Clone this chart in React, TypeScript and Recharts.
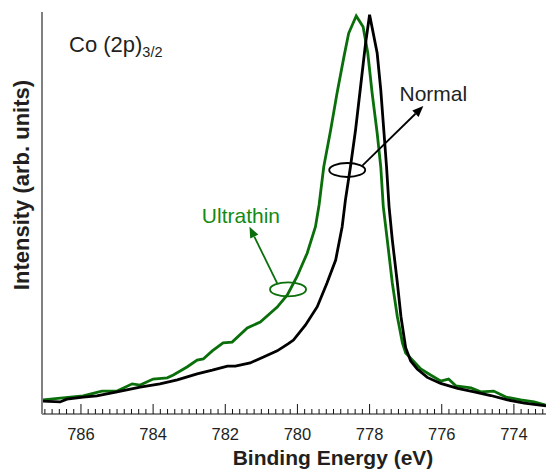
import { LineChart, Line, XAxis, YAxis, ReferenceDot, ReferenceLine } from 'recharts';

const FONT = '"Liberation Sans", Arial, Helvetica, sans-serif';
const GREEN = '#0a6f0a';

// binding energy (eV) / intensity (arb.)
const normalEnergy = [
  787.06, 786.58, 786.39, 785.94, 785.56, 785.0, 784.36, 783.81, 783.33, 782.78, 782.36, 781.94, 781.72,
  781.31, 780.94, 780.56, 780.25, 780.11, 779.78, 779.45, 779.18, 778.94, 778.76, 778.67, 778.53, 778.39,
  778.25, 778.11, 778.0, 777.79, 777.69, 777.6, 777.53, 777.46, 777.37, 777.23, 777.13, 777.0, 776.86,
  776.68, 776.4, 776.03, 775.56, 775.1, 774.64, 774.18, 773.71, 773.11,
];
const normalIntensity = [
  3.2, 3.0, 3.7, 4.2, 4.5, 5.5, 6.7, 7.5, 8.5, 10.0, 10.9, 11.9, 11.9,
  12.7, 14.2, 15.7, 17.5, 18.4, 22.1, 26.7, 32.6, 38.3, 46.6, 53.2, 61.5, 70.6,
  81.4, 92.3, 99.3, 89.8, 80.6, 69.9, 61.5, 51.6, 43.3, 32.6, 24.2, 16.5, 13.2,
  11.2, 9.1, 7.6, 6.4, 5.5, 4.6, 3.5, 2.7, 2.0,
];

const ultraEnergy = [
  787.05, 786.5, 785.94, 785.42, 785.0, 784.58, 784.36, 784.0, 783.61, 783.44, 783.06, 782.78, 782.61,
  782.36, 782.06, 781.81, 781.39, 781.03, 780.56, 780.28, 780.01, 779.73, 779.5, 779.4, 779.27, 779.08,
  778.9, 778.71, 778.58, 778.37, 778.18, 778.05, 777.93, 777.79, 777.69, 777.62, 777.51, 777.37, 777.23,
  777.09, 777.0, 776.86, 776.58, 776.31, 776.03, 775.81, 775.61, 775.19, 774.92, 774.56, 774.22, 773.81,
  773.44, 773.11,
];
const ultraIntensity = [
  3.5, 4.0, 4.5, 5.7, 5.7, 7.5, 7.2, 8.7, 9.0, 9.7, 11.7, 13.4, 13.7,
  15.7, 17.7, 17.9, 21.4, 22.9, 26.6, 29.6, 34.2, 40.0, 46.6, 52.0, 61.5, 70.6,
  79.9, 88.9, 94.7, 99.0, 96.3, 89.8, 79.9, 69.9, 61.5, 51.6, 43.3, 32.6, 24.2,
  17.7, 15.2, 13.9, 11.2, 9.7, 8.2, 8.7, 7.0, 6.5, 5.5, 5.7, 4.2, 3.5,
  3.0, 2.2,
];

const majorTicks = [786, 784, 782, 780, 778, 776, 774];
const minorTicks = Array.from({ length: 70 }, (_, i) => Number((773.2 + i * 0.2).toFixed(1)));

const normalData = normalEnergy.map((e, i) => ({ e, v: normalIntensity[i] }));
const ultraData = ultraEnergy.map((e, i) => ({ e, v: ultraIntensity[i] }));

function EnergyTick({ x, y, payload }: any) {
  const val = payload.value as number;
  const major = majorTicks.some((t) => Math.abs(t - val) < 1e-6);
  return (
    <g>
      <line x1={x} x2={x} y1={y - (major ? 10 : 5)} y2={y} stroke="#111" strokeWidth={1} />
      {major && (
        <text x={x} y={y + 26} textAnchor="middle" fontSize={16.5} fontFamily={FONT} fill="#231f20">
          {val}
        </text>
      )}
    </g>
  );
}

function arrow(color: string) {
  return (p: any) => {
    const { x1, y1, x2, y2 } = p;
    const dx = x2 - x1;
    const dy = y2 - y1;
    const len = Math.hypot(dx, dy) || 1;
    const ux = dx / len;
    const uy = dy / len;
    const hl = 11;
    const hw = 4.5;
    const bx = x2 - ux * hl;
    const by = y2 - uy * hl;
    return (
      <g>
        <line x1={x1} y1={y1} x2={bx} y2={by} stroke={color} strokeWidth={1.8} />
        <polygon
          points={`${x2},${y2} ${bx - uy * hw},${by + ux * hw} ${bx + uy * hw},${by - ux * hw}`}
          fill={color}
        />
      </g>
    );
  };
}

function ring(color: string) {
  return (p: any) => (
    <ellipse cx={p.cx} cy={p.cy} rx={18} ry={7} fill="none" stroke={color} strokeWidth={1.8} />
  );
}

function tag(text: string, color: string) {
  return (p: any) => (
    <text x={p.cx} y={p.cy} fontSize={21} fontFamily={FONT} fill={color}>
      {text}
    </text>
  );
}

export default function App() {
  return (
    <div style={{ position: 'absolute', left: 0, top: 0, width: 546, height: 470, background: '#fff' }}>
      <LineChart width={546} height={470} margin={{ top: 12, right: 0, bottom: 0, left: 0 }}>
        <XAxis
          dataKey="e"
          type="number"
          domain={[773.11, 787.08]}
          reversed
          allowDataOverflow
          ticks={minorTicks}
          interval={0}
          tick={<EnergyTick />}
          tickLine={false}
          tickSize={0}
          tickMargin={0}
          height={56}
          axisLine={{ stroke: '#111', strokeWidth: 1 }}
        />
        <XAxis
          xAxisId="top"
          orientation="top"
          dataKey="e"
          type="number"
          domain={[773.11, 787.08]}
          reversed
          tick={false}
          tickLine={false}
          height={0}
          axisLine={{ stroke: '#808080', strokeWidth: 2 }}
        />
        <YAxis
          type="number"
          domain={[0, 100]}
          width={42}
          tick={false}
          tickLine={false}
          axisLine={{ stroke: '#808080', strokeWidth: 2 }}
        />
        <Line
          data={ultraData}
          dataKey="v"
          type="linear"
          stroke={GREEN}
          strokeWidth={2.8}
          dot={false}
          isAnimationActive={false}
        />
        <Line
          data={normalData}
          dataKey="v"
          type="linear"
          stroke="#000"
          strokeWidth={2.8}
          dot={false}
          isAnimationActive={false}
        />
        <ReferenceDot x={778.62} y={60.7} r={0} ifOverflow="visible" shape={ring('#000')} />
        <ReferenceLine
          segment={[{ x: 778.2, y: 61.8 }, { x: 776.51, y: 76.6 }]}
          ifOverflow="visible"
          shape={arrow('#000')}
        />
        <ReferenceDot x={777.17} y={77.9} r={0} ifOverflow="visible" shape={tag('Normal', '#231f20')} />
        <ReferenceDot x={780.26} y={31.0} r={0} ifOverflow="visible" shape={ring(GREEN)} />
        <ReferenceLine
          segment={[{ x: 780.56, y: 32.5 }, { x: 781.33, y: 46.6 }]}
          ifOverflow="visible"
          shape={arrow(GREEN)}
        />
        <ReferenceDot x={782.65} y={47.6} r={0} ifOverflow="visible" shape={tag('Ultrathin', '#138a13')} />
        <text x={69} y={52} fontSize={22} fontFamily={FONT} fill="#231f20">
          Co (2p)
          <tspan fontSize={14.5} dy={5}>3/2</tspan>
        </text>
        <text
          x={29}
          y={185}
          transform="rotate(-90, 29, 185)"
          textAnchor="middle"
          fontSize={22}
          fontWeight="bold"
          fontFamily={FONT}
          fill="#231f20"
        >
          Intensity (arb. units)
        </text>
        <text x={333} y={465} textAnchor="middle" fontSize={21} fontWeight="bold" fontFamily={FONT} fill="#231f20">
          Binding Energy (eV)
        </text>
      </LineChart>
    </div>
  );
}
